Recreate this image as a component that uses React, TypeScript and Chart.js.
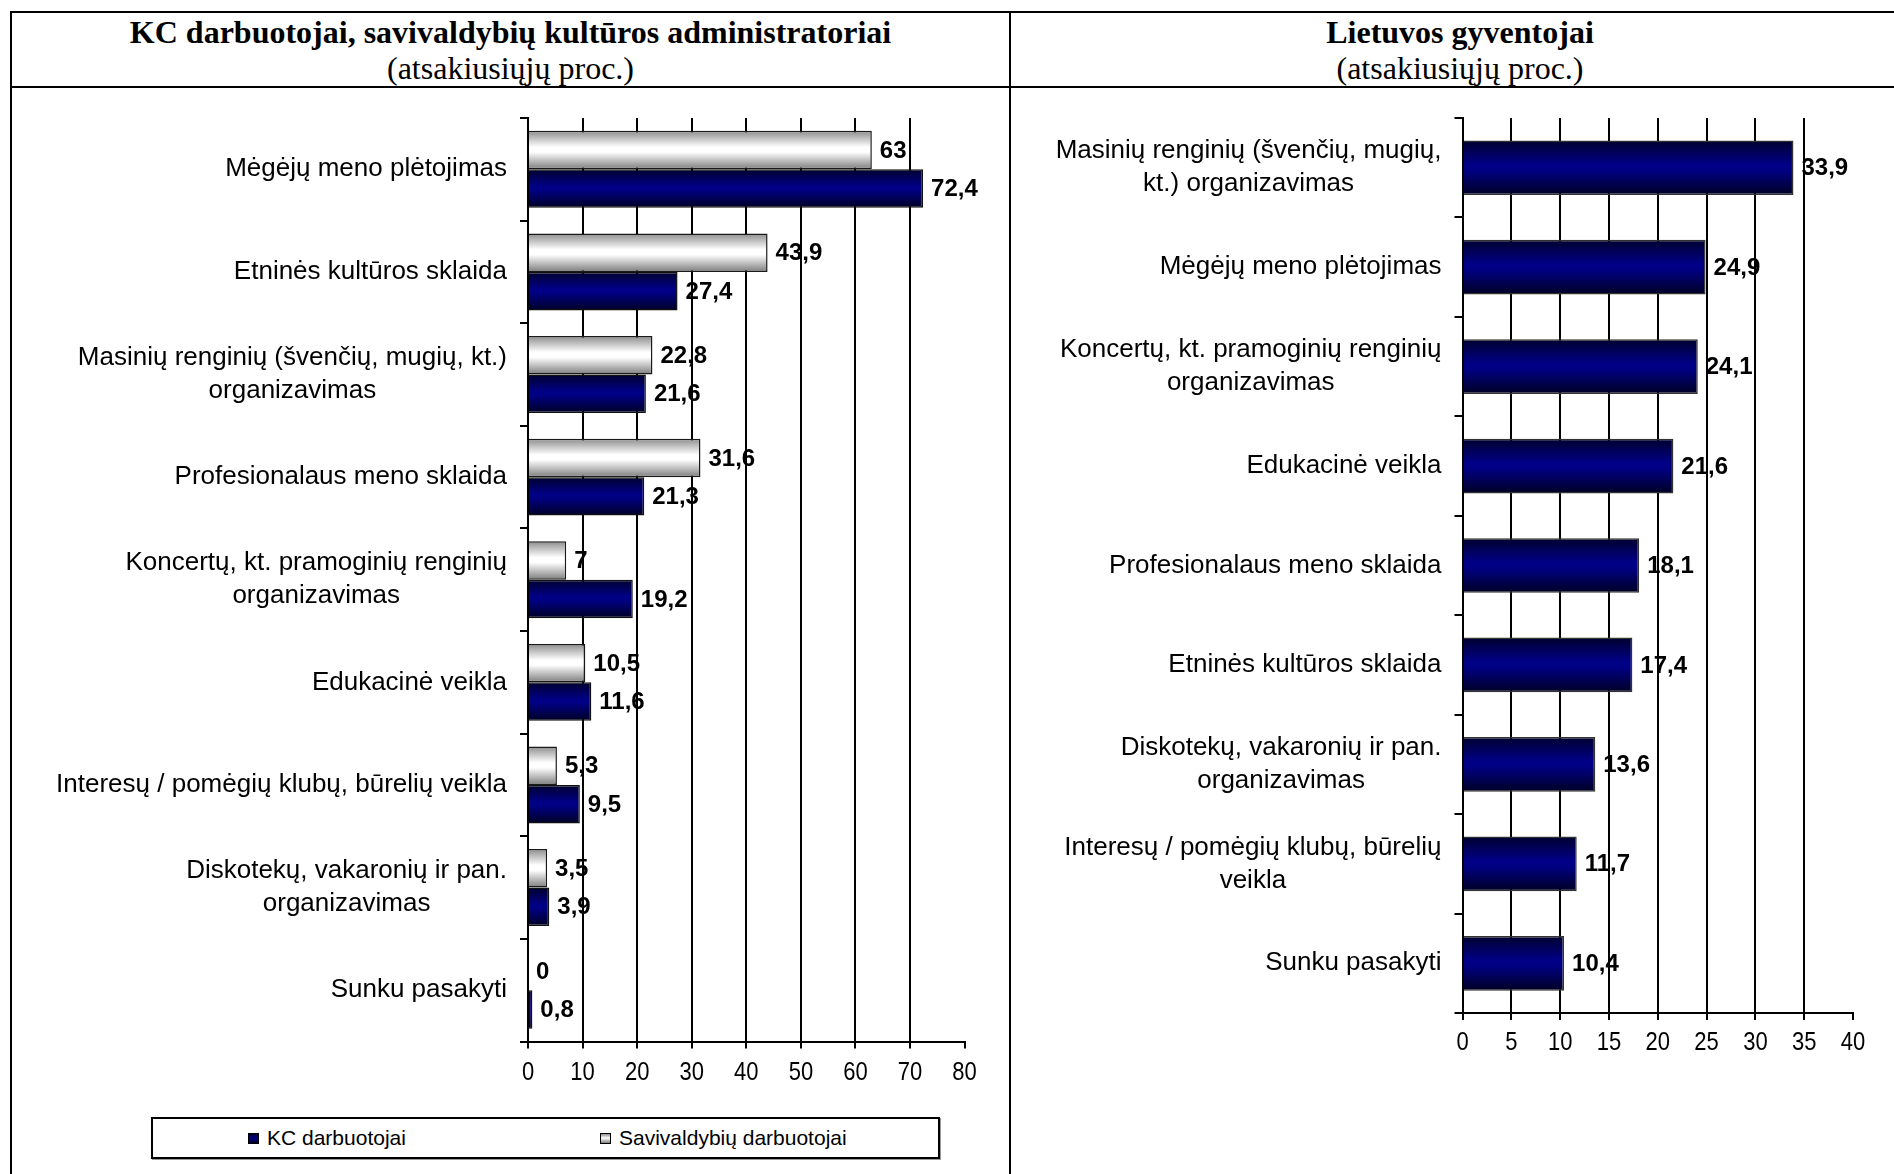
import React, { useEffect, useRef } from 'react';
import { Chart, registerables } from 'chart.js';

Chart.register(...registerables);

const SANS = "Arial, 'Liberation Sans', sans-serif";
const SERIF = "'Times New Roman', 'Liberation Serif', serif";

const leftTitle = 'KC darbuotojai, savivaldybių kultūros administratoriai';
const rightTitle = 'Lietuvos gyventojai';
const subtitle = '(atsakiusiųjų proc.)';

const leftCategories: string[][] = [
  ['Mėgėjų meno plėtojimas'],
  ['Etninės kultūros sklaida'],
  ['Masinių renginių (švenčių, mugių, kt.)', 'organizavimas'],
  ['Profesionalaus meno sklaida'],
  ['Koncertų, kt. pramoginių renginių', 'organizavimas'],
  ['Edukacinė veikla'],
  ['Interesų / pomėgių klubų, būrelių veikla'],
  ['Diskotekų, vakaronių ir pan.', 'organizavimas'],
  ['Sunku pasakyti'],
];
const savivaldybiuValues = [63, 43.9, 22.8, 31.6, 7, 10.5, 5.3, 3.5, 0];
const kcValues = [72.4, 27.4, 21.6, 21.3, 19.2, 11.6, 9.5, 3.9, 0.8];
const leftAxisMax = 80;
const leftAxisStep = 10;

const rightCategories: string[][] = [
  ['Masinių renginių (švenčių, mugių,', 'kt.) organizavimas'],
  ['Mėgėjų meno plėtojimas'],
  ['Koncertų, kt. pramoginių renginių', 'organizavimas'],
  ['Edukacinė veikla'],
  ['Profesionalaus meno sklaida'],
  ['Etninės kultūros sklaida'],
  ['Diskotekų, vakaronių ir pan.', 'organizavimas'],
  ['Interesų / pomėgių klubų, būrelių', 'veikla'],
  ['Sunku pasakyti'],
];
const gyventojaiValues = [33.9, 24.9, 24.1, 21.6, 18.1, 17.4, 13.6, 11.7, 10.4];
const rightAxisMax = 40;
const rightAxisStep = 5;

const legendLabels = ['KC darbuotojai', 'Savivaldybių darbuotojai'];

const fmt = (v: number) => String(v).replace('.', ',');

function makeGradient(ctx: CanvasRenderingContext2D, top: number, bottom: number, kind: string) {
  const g = ctx.createLinearGradient(0, top, 0, bottom);
  if (kind === 'navy') {
    g.addColorStop(0, '#00002e');
    g.addColorStop(0.45, '#000088');
    g.addColorStop(0.55, '#000082');
    g.addColorStop(1, '#000024');
  } else {
    g.addColorStop(0, '#8c8c8c');
    g.addColorStop(0.42, '#ffffff');
    g.addColorStop(0.55, '#ffffff');
    g.addColorStop(1, '#7c7c7c');
  }
  return g;
}

const gradientPlugin = {
  id: 'barGradient',
  beforeDatasetsDraw(chart: any) {
    const ctx = chart.ctx;
    chart.data.datasets.forEach((ds: any, di: number) => {
      const meta = chart.getDatasetMeta(di);
      meta.data.forEach((el: any) => {
        const h = el.height;
        const top = el.y - h / 2;
        try {
          el.options.backgroundColor = makeGradient(ctx, top, top + h, ds.fillKind);
        } catch (e) {
          /* keep plain colour */
        }
      });
    });
  },
};

const valueLabelPlugin = {
  id: 'valueLabels',
  beforeDraw(chart: any) {
    const ctx = chart.ctx;
    ctx.save();
    ctx.font = `bold 24px ${SANS}`;
    ctx.fillStyle = '#000';
    ctx.textAlign = 'left';
    ctx.textBaseline = 'middle';
    chart.data.datasets.forEach((ds: any, di: number) => {
      const meta = chart.getDatasetMeta(di);
      meta.data.forEach((el: any, i: number) => {
        ctx.fillText(fmt(ds.data[i]), el.x + 8, el.y + 1);
      });
    });
    ctx.restore();
  },
};

const categoryLabelPlugin = {
  id: 'categoryLabels',
  afterDraw(chart: any, _args: any, opts: any) {
    const ctx = chart.ctx;
    const yScale = chart.scales.y;
    const labels = chart.data.labels as string[][];
    ctx.save();
    ctx.font = `26px ${SANS}`;
    ctx.fillStyle = '#000';
    ctx.textAlign = 'center';
    ctx.textBaseline = 'middle';
    const right = chart.chartArea.left - (opts.gap || 21);
    const lh = 33;
    labels.forEach((lines, i) => {
      const cy = yScale.getPixelForValue(i);
      const w = Math.max(...lines.map((l) => ctx.measureText(l).width));
      const cx = right - w / 2;
      lines.forEach((l, k) => {
        ctx.fillText(l, cx, cy + (k - (lines.length - 1) / 2) * lh);
      });
    });
    ctx.restore();
  },
};

const xTickLabelPlugin = {
  id: 'xTickLabels',
  afterDraw(chart: any, _args: any, opts: any) {
    const ctx = chart.ctx;
    const xs = chart.scales.x;
    ctx.save();
    ctx.font = `22px ${SANS}`;
    ctx.fillStyle = '#000';
    ctx.textAlign = 'center';
    ctx.textBaseline = 'middle';
    xs.ticks.forEach((t: any) => {
      const px = xs.getPixelForValue(t.value);
      ctx.save();
      ctx.translate(px, chart.chartArea.bottom + (opts.offset || 30));
      ctx.scale(1, 1.16);
      ctx.fillText(String(t.value), 0, 0);
      ctx.restore();
    });
    ctx.restore();
  },
};

function buildOptions(max: number, step: number, pad: any, yWidth: number, labelOffset: number) {
  return {
    indexAxis: 'y',
    responsive: false,
    animation: false,
    devicePixelRatio: 1,
    events: [],
    layout: { padding: pad },
    scales: {
      x: {
        type: 'linear',
        position: 'bottom',
        min: 0,
        max,
        ticks: {
          stepSize: step,
          display: false,
          autoSkip: false,
        },
        grid: {
          color: (c: any) => (c.tick && c.tick.value === max ? 'rgba(0,0,0,0)' : '#000'),
          tickColor: '#000',
          lineWidth: 2,
          drawTicks: true,
          tickLength: 7,
        },
        border: { display: true, color: '#000', width: 2 },
        afterFit: (s: any) => {
          s.height = 60;
        },
      },
      y: {
        type: 'category',
        ticks: { display: false },
        grid: {
          drawOnChartArea: false,
          drawTicks: true,
          tickLength: 8,
          color: '#000',
          lineWidth: 2,
          offset: true,
        },
        border: { display: true, color: '#000', width: 2 },
        afterFit: (s: any) => {
          s.width = yWidth;
        },
      },
    },
    plugins: {
      legend: { display: false },
      tooltip: { enabled: false },
      categoryLabels: { gap: 21 },
      xTickLabels: { offset: labelOffset },
    },
  };
}

function leftConfig(): any {
  return {
    type: 'bar',
    data: {
      labels: leftCategories,
      datasets: [
        {
          label: legendLabels[1],
          data: savivaldybiuValues,
          fillKind: 'white',
          backgroundColor: () => '#e6e6e6',
          borderColor: '#1a1a1a',
          borderWidth: 1.5,
          borderSkipped: 'start',
          categoryPercentage: 0.75,
          barPercentage: 1,
        },
        {
          label: legendLabels[0],
          data: kcValues,
          fillKind: 'navy',
          backgroundColor: () => '#000080',
          borderColor: '#111',
          borderWidth: 1.5,
          borderSkipped: 'start',
          categoryPercentage: 0.75,
          barPercentage: 1,
        },
      ],
    },
    options: buildOptions(leftAxisMax, leftAxisStep, { top: 30, right: 44.4, bottom: 6.5, left: 0 }, 516, 31.3),
    plugins: [valueLabelPlugin, gradientPlugin, categoryLabelPlugin, xTickLabelPlugin],
  };
}

function rightConfig(): any {
  return {
    type: 'bar',
    data: {
      labels: rightCategories,
      datasets: [
        {
          label: 'Lietuvos gyventojai',
          data: gyventojaiValues,
          fillKind: 'navy',
          backgroundColor: () => '#000080',
          borderColor: '#333',
          borderWidth: 1.5,
          borderSkipped: 'start',
          categoryPercentage: 0.55,
          barPercentage: 1,
        },
      ],
    },
    options: buildOptions(rightAxisMax, rightAxisStep, { top: 30, right: 41, bottom: 15, left: 0 }, 451.5, 29.7),
    plugins: [valueLabelPlugin, gradientPlugin, categoryLabelPlugin, xTickLabelPlugin],
  };
}

function ChartCanvas({ config, left, top, width, height }: any) {
  const ref = useRef<HTMLCanvasElement>(null);
  useEffect(() => {
    const chart = new Chart(ref.current as HTMLCanvasElement, config());
    return () => chart.destroy();
  }, []);
  return (
    <canvas
      ref={ref}
      width={width}
      height={height}
      style={{ position: 'absolute', left, top, width, height, display: 'block' }}
    />
  );
}

const line = (l: number, t: number, w: number, h: number) => (
  <div style={{ position: 'absolute', left: l, top: t, width: w, height: h, background: '#000' }} />
);

function LegendSwatch({ kind }: { kind: string }) {
  const bg =
    kind === 'navy'
      ? 'linear-gradient(#00002e, #000088 50%, #000024)'
      : 'linear-gradient(#8c8c8c, #ffffff 45%, #7c7c7c)';
  return (
    <span
      style={{
        display: 'inline-block',
        width: 11,
        height: 11,
        border: '1px solid #000',
        background: bg,
        boxSizing: 'border-box',
      }}
    />
  );
}

export default function App() {
  return (
    <div
      style={{
        position: 'absolute',
        left: 0,
        top: 0,
        width: 1894,
        height: 1174,
        overflow: 'hidden',
        background: '#fff',
      }}
    >
      {line(10, 11, 1884, 2)}
      {line(10, 86, 1884, 2)}
      {line(10, 11, 2, 1163)}
      {line(1009, 11, 2, 1163)}

      <div
        style={{
          position: 'absolute',
          left: 11,
          top: 14,
          width: 999,
          textAlign: 'center',
          fontFamily: SERIF,
          fontSize: 32,
          lineHeight: '36px',
          color: '#000',
        }}
      >
        <div style={{ fontWeight: 'bold' }}>{leftTitle}</div>
        <div>{subtitle}</div>
      </div>
      <div
        style={{
          position: 'absolute',
          left: 1010,
          top: 14,
          width: 900,
          textAlign: 'center',
          fontFamily: SERIF,
          fontSize: 32,
          lineHeight: '36px',
          color: '#000',
        }}
      >
        <div style={{ fontWeight: 'bold' }}>{rightTitle}</div>
        <div>{subtitle}</div>
      </div>

      <ChartCanvas config={leftConfig} left={12} top={88} width={997} height={1020} />
      <ChartCanvas config={rightConfig} left={1011} top={88} width={883} height={1000} />

      <div
        style={{
          position: 'absolute',
          left: 151,
          top: 1117,
          width: 789,
          height: 42,
          border: '2px solid #000',
          boxSizing: 'border-box',
          boxShadow: '1px 1px 0 #999',
          fontFamily: SANS,
          fontSize: 21,
          color: '#000',
        }}
      >
        <div style={{ position: 'absolute', left: 95, top: 0, height: 38, display: 'flex', alignItems: 'center' }}>
          <LegendSwatch kind="navy" />
          <span style={{ marginLeft: 8 }}>{legendLabels[0]}</span>
        </div>
        <div style={{ position: 'absolute', left: 447, top: 0, height: 38, display: 'flex', alignItems: 'center' }}>
          <LegendSwatch kind="white" />
          <span style={{ marginLeft: 8 }}>{legendLabels[1]}</span>
        </div>
      </div>
    </div>
  );
}
